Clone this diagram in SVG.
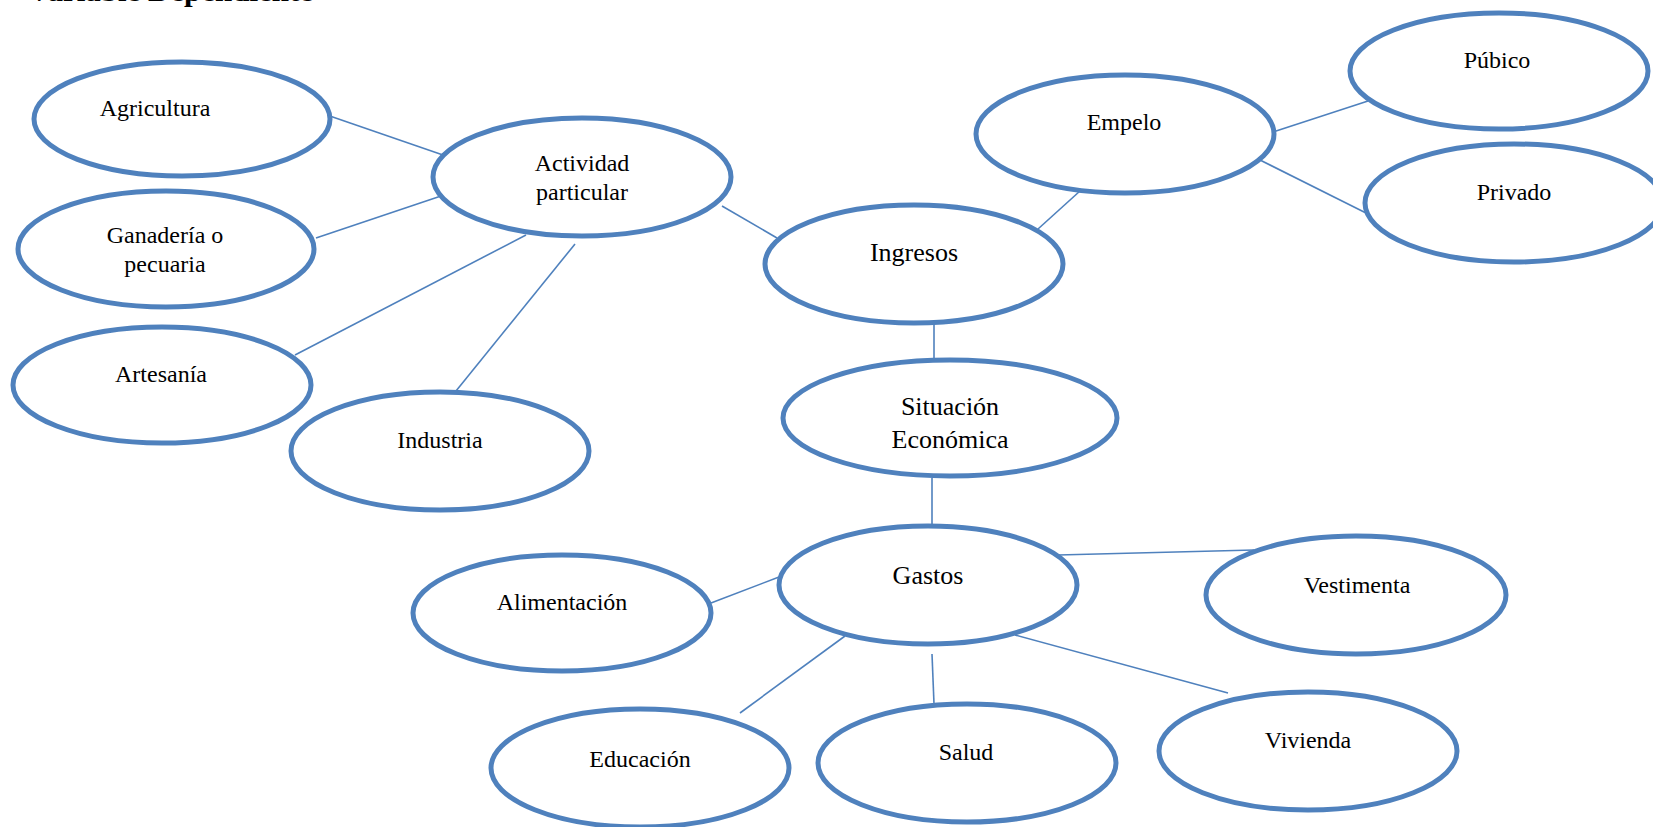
<svg xmlns="http://www.w3.org/2000/svg" width="1653" height="827" viewBox="0 0 1653 827">
<style>
.n{fill:#ffffff;stroke:#4f81bd;stroke-width:5}
.c line{stroke:#4f81bd;stroke-width:1.6}
text{font-family:"Liberation Serif","Times New Roman",serif;fill:#000;text-anchor:middle;font-size:24px}
.b{font-size:26px}
.t{font-weight:bold;font-size:30px;text-anchor:start}
</style>
<rect width="1653" height="827" fill="#ffffff"/>
<text class="t" x="28" y="1" textLength="285" lengthAdjust="spacingAndGlyphs">Variable Dependiente</text>
<g class="c" id="connectors">
<line x1="324" y1="114" x2="443" y2="155"/>
<line x1="316" y1="238" x2="441" y2="196"/>
<line x1="295" y1="355" x2="526" y2="235"/>
<line x1="456" y1="391" x2="575" y2="244"/>
<line x1="722" y1="206" x2="777" y2="238"/>
<line x1="1038" y1="229" x2="1080" y2="191"/>
<line x1="1273" y1="132" x2="1368" y2="101"/>
<line x1="1260" y1="160" x2="1368" y2="214"/>
<line x1="934" y1="323" x2="934" y2="360"/>
<line x1="932" y1="478" x2="932" y2="525"/>
<line x1="1058" y1="555" x2="1254" y2="550"/>
<line x1="711" y1="603" x2="779" y2="577"/>
<line x1="845" y1="636" x2="740" y2="713"/>
<line x1="932" y1="654" x2="934" y2="704"/>
<line x1="1015" y1="635" x2="1228" y2="693"/>
</g>
<g id="agricultura"><ellipse class="n" cx="182" cy="119" rx="148" ry="57"/><text x="155" y="116">Agricultura</text></g>
<g id="actividad"><ellipse class="n" cx="582" cy="177" rx="149" ry="59"/><text x="582" y="171">Actividad</text><text x="582" y="200">particular</text></g>
<g id="ganaderia"><ellipse class="n" cx="166" cy="249" rx="148" ry="58"/><text x="165" y="243">Ganadería o</text><text x="165" y="272">pecuaria</text></g>
<g id="artesania"><ellipse class="n" cx="162" cy="385" rx="149" ry="58"/><text x="161" y="382">Artesanía</text></g>
<g id="industria"><ellipse class="n" cx="440" cy="451" rx="149" ry="59"/><text x="440" y="448">Industria</text></g>
<g id="ingresos"><ellipse class="n" cx="914" cy="264" rx="149" ry="59"/><text class="b" x="914" y="261">Ingresos</text></g>
<g id="situacion"><ellipse class="n" cx="950" cy="418" rx="167" ry="58"/><text class="b" x="950" y="415">Situación</text><text class="b" x="950" y="448">Económica</text></g>
<g id="gastos"><ellipse class="n" cx="928" cy="585" rx="149" ry="59"/><text class="b" x="928" y="584">Gastos</text></g>
<g id="alimentacion"><ellipse class="n" cx="562" cy="613" rx="149" ry="58"/><text x="562" y="610">Alimentación</text></g>
<g id="educacion"><ellipse class="n" cx="640" cy="768" rx="149" ry="59"/><text x="640" y="767">Educación</text></g>
<g id="salud"><ellipse class="n" cx="967" cy="763" rx="149" ry="59"/><text x="966" y="760">Salud</text></g>
<g id="vivienda"><ellipse class="n" cx="1308" cy="751" rx="149" ry="59"/><text x="1308" y="748">Vivienda</text></g>
<g id="vestimenta"><ellipse class="n" cx="1356" cy="595" rx="150" ry="59"/><text x="1357" y="593">Vestimenta</text></g>
<g id="empelo"><ellipse class="n" cx="1125" cy="134" rx="149" ry="59"/><text x="1124" y="130">Empelo</text></g>
<g id="publico"><ellipse class="n" cx="1499" cy="71" rx="149" ry="58"/><text x="1497" y="68">Púbico</text></g>
<g id="privado"><ellipse class="n" cx="1514" cy="203" rx="149" ry="59"/><text x="1514" y="200">Privado</text></g>
</svg>
